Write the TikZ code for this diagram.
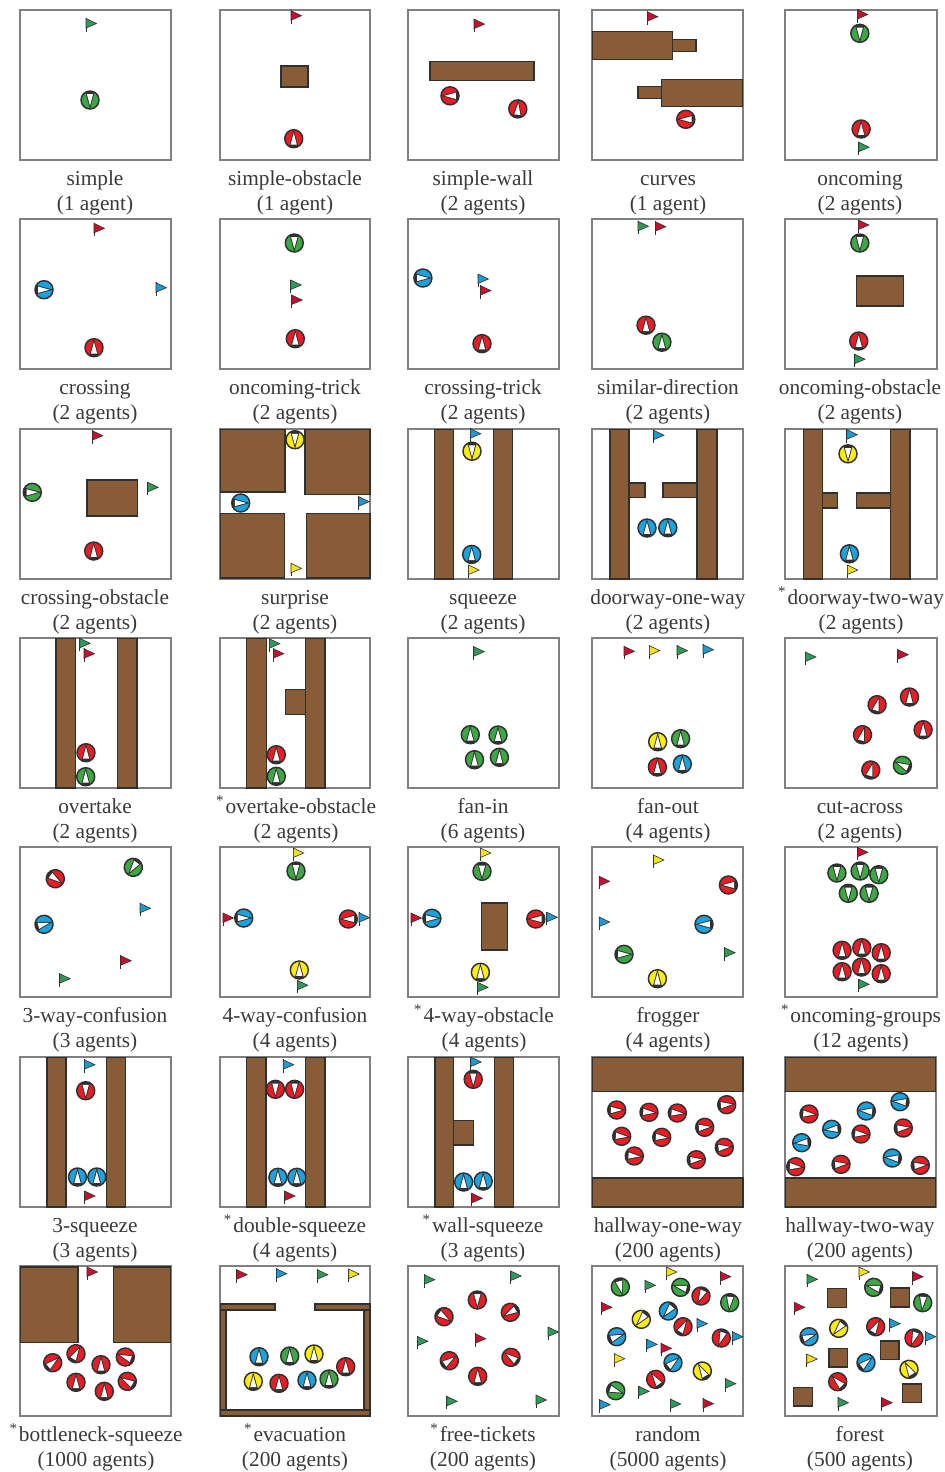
\documentclass[tikz,border=0pt]{standalone}
\usepackage{fontspec}
\setmainfont{Liberation Serif}
\definecolor{ared}{HTML}{ED1C24}
\definecolor{agreen}{HTML}{3BA844}
\definecolor{ablue}{HTML}{1AA3DE}
\definecolor{ayellow}{HTML}{FFEE00}
\definecolor{fred}{HTML}{C8102E}
\definecolor{fgreen}{HTML}{2E9B58}
\definecolor{fblue}{HTML}{1F9AD0}
\definecolor{fyellow}{HTML}{F5E020}
\definecolor{brownw}{HTML}{875C37}
\definecolor{edgek}{HTML}{303030}
\definecolor{frameg}{HTML}{808080}
\definecolor{labelg}{HTML}{3A3A3A}
\tikzset{
  panelbox/.style={draw=frameg,line width=1.05pt,fill=white},
  obstbox/.style={draw=edgek,line width=0.8pt,fill=brownw},
  agentdisc/.style={draw=edgek,line width=1.1pt},
  caption/.style={font=\fontsize{16}{18.75}\selectfont,text=labelg,align=center,inner sep=0pt},
}
% panel: left top right bottom
\newcommand\panelat[4]{\draw[panelbox] (#1,#2) rectangle (#3,#4);}
\newcommand\obst[4]{\draw[obstbox] (#1,#2) rectangle (#3,#4);}
% agent: x y colour heading (screen degrees clockwise from east)
\newcommand\agent[4]{%
  \begin{scope}[shift={(#1,#2)},rotate=-#4]
    \begin{scope}
      \clip (0,0) circle (9);
      \fill[#3] (0,0) circle (9);
      \fill[edgek] (9.2,0) -- (-10,-5.2) -- (-10,5.2) -- cycle;
      \fill[white] (5.6,0) -- (-5.8,-3.1) -- (-5.8,3.1) -- cycle;
    \end{scope}
    \draw[agentdisc] (0,0) circle (9);
  \end{scope}}
% flag: mast x, tip y, colour
\newcommand\flagm[3]{%
  \draw[edgek,line width=0.75pt] (#1,#2-5.5) -- (#1,#2+8);
  \draw[edgek,line width=0.45pt,fill=#3] (#1,#2-5) -- (#1+10.5,#2) -- (#1,#2+4.5) -- cycle;}
\newcommand\lab[5]{\node[caption] (#1) at (#2,#3) {\strut #4\\\strut #5};}
\newcommand\st{\textsuperscript{*}\kern1pt}
\begin{document}
\begin{tikzpicture}[x=0.75pt,y=-0.75pt]
\useasboundingbox (0,0) rectangle (945,1472);
\fill[white] (0,0) rectangle (945,1472);

% ---------- row 1
\panelat{20}{10}{171}{160}
\flagm{86}{23.5}{fgreen}
\agent{90}{100}{agreen}{90}
\lab{simple}{95}{193}{simple}{(1 agent)}

\panelat{220}{10}{370}{160}
\obst{281}{66}{308}{87}
\flagm{291}{15.7}{fred}
\agent{293.7}{138.7}{ared}{270}
\lab{simpleobstacle}{295}{193}{simple-obstacle}{(1 agent)}

\panelat{408}{10}{559}{160}
\obst{430}{61.3}{534}{80.3}
\flagm{474}{24.1}{fred}
\agent{450}{95.8}{ared}{180}
\agent{517.8}{108.9}{ared}{275}
\lab{simplewall}{483}{193}{simple-wall}{(2 agents)}

\panelat{592}{10}{743}{160}
\obst{672}{39.7}{696}{51.6}
\obst{592.6}{31.9}{672.6}{59.8}
\obst{638}{86.3}{661.5}{98.8}
\obst{661.5}{79.1}{742.6}{106.6}
\flagm{647.3}{16.7}{fred}
\agent{685.8}{119.3}{ared}{180}
\lab{curves}{668}{193}{curves}{(1 agent)}

\panelat{785}{10}{937}{160}
\flagm{857.3}{14.5}{fred}
\agent{859.8}{33.3}{agreen}{90}
\agent{861.1}{129}{ared}{270}
\flagm{858.7}{147.2}{fgreen}
\lab{oncoming}{860}{193}{oncoming}{(2 agents)}

% ---------- row 2
\panelat{20}{219}{171}{369}
\flagm{94}{228.3}{fred}
\agent{44}{289.7}{ablue}{0}
\flagm{156}{287.7}{fblue}
\agent{94}{347.7}{ared}{270}
\lab{crossing}{95}{402}{crossing}{(2 agents)}

\panelat{220}{219}{370}{369}
\agent{294.3}{243}{agreen}{90}
\flagm{290.7}{285}{fgreen}
\flagm{291.7}{300}{fred}
\agent{295.3}{338.7}{ared}{270}
\lab{oncomingtrick}{295}{402}{oncoming-trick}{(2 agents)}

\panelat{408}{219}{559}{369}
\agent{422.9}{278}{ablue}{0}
\flagm{478}{279}{fblue}
\flagm{480.4}{290.6}{fred}
\agent{482}{343.6}{ared}{270}
\lab{crossingtrick}{483}{402}{crossing-trick}{(2 agents)}

\panelat{592}{219}{743}{369}
\flagm{638}{226.3}{fgreen}
\flagm{655.3}{226.7}{fred}
\agent{646}{325.2}{ared}{270}
\agent{661.9}{342.2}{agreen}{270}
\lab{similardirection}{668}{402}{similar-direction}{(2 agents)}

\panelat{785}{219}{937}{369}
\obst{856.5}{276}{903.5}{306}
\flagm{858.4}{225}{fred}
\agent{859.8}{243}{agreen}{90}
\agent{858.7}{341}{ared}{270}
\flagm{854.5}{359.2}{fgreen}
\lab{oncomingobstacle}{860}{402}{oncoming-obstacle}{(2 agents)}

% ---------- row 3
\panelat{20}{429}{171}{579}
\obst{87}{480}{137.7}{516}
\flagm{92.3}{435.7}{fred}
\agent{32.3}{492.3}{agreen}{0}
\flagm{147.7}{487.3}{fgreen}
\agent{93.7}{551}{ared}{270}
\lab{crossingobstacle}{95}{612}{crossing-obstacle}{(2 agents)}

\panelat{220}{429}{370}{579}
\obst{220.3}{429.3}{285}{492}
\obst{305}{429.3}{370}{494.3}
\obst{220.3}{513.7}{284.3}{578}
\obst{306.7}{513.7}{370}{578}
\agent{295}{439.7}{ayellow}{90}
\agent{240.7}{503}{ablue}{0}
\flagm{358.7}{501.7}{fblue}
\flagm{291}{568.3}{fyellow}
\lab{surprise}{295}{612}{surprise}{(2 agents)}

\panelat{408}{429}{559}{579}
\obst{434.6}{429.3}{453.7}{579}
\obst{493.5}{429.3}{512.6}{579}
\flagm{470.3}{433.7}{fblue}
\agent{472}{451.2}{ayellow}{90}
\agent{471.7}{554.4}{ablue}{270}
\flagm{468.6}{570}{fyellow}
\lab{squeeze}{483}{612}{squeeze}{(2 agents)}

\panelat{592}{429}{743}{579}
\obst{629}{483}{645}{497.5}
\obst{663}{483}{697}{497.5}
\obst{610}{429.3}{629}{579}
\obst{697}{429.3}{717}{579}
\flagm{653.5}{435.2}{fblue}
\agent{647}{528}{ablue}{270}
\agent{667.8}{527.7}{ablue}{270}
\lab{doorwayoneway}{668}{612}{doorway-one-way}{(2 agents)}

\panelat{785}{429}{937}{579}
\obst{822.5}{493}{837.5}{508}
\obst{856.9}{493}{890.5}{508}
\obst{803.5}{429.3}{822.5}{579}
\obst{890.5}{429.3}{910}{579}
\flagm{846.9}{434.7}{fblue}
\agent{848}{453.8}{ayellow}{90}
\agent{849.4}{553.8}{ablue}{270}
\flagm{847.3}{570}{fyellow}
\lab{doorwaytwoway}{861}{612}{\st doorway-two-way}{(2 agents)}

% ---------- row 4
\panelat{20}{638}{171}{788}
\obst{56}{638.3}{75.3}{788}
\obst{117.7}{638.3}{137}{788}
\flagm{79.7}{643.3}{fgreen}
\flagm{84}{653.7}{fred}
\agent{86}{752.7}{ared}{270}
\agent{85.7}{776.7}{agreen}{270}
\lab{overtake}{95}{821}{overtake}{(2 agents)}

\panelat{220}{638}{370}{788}
\obst{285.7}{689.3}{305.3}{714.3}
\obst{246.3}{638.3}{266.3}{788}
\obst{305.3}{638.3}{325}{788}
\flagm{269.3}{643.7}{fgreen}
\flagm{273.3}{653.7}{fred}
\agent{276.3}{754.7}{ared}{270}
\agent{276.3}{776.3}{agreen}{270}
\lab{overtakeobstacle}{296}{821}{\st overtake-obstacle}{(2 agents)}

\panelat{408}{638}{559}{788}
\flagm{473.8}{651.7}{fgreen}
\agent{470.3}{734.7}{agreen}{270}
\agent{498}{735}{agreen}{270}
\agent{474.5}{759.7}{agreen}{270}
\agent{499.4}{757.3}{agreen}{270}
\lab{fanin}{483}{821}{fan-in}{(6 agents)}

\panelat{592}{638}{743}{788}
\flagm{624}{651.3}{fred}
\flagm{649.4}{650.7}{fyellow}
\flagm{677}{650.7}{fgreen}
\flagm{703}{649.7}{fblue}
\agent{657.7}{741.7}{ayellow}{270}
\agent{680.6}{738.7}{agreen}{270}
\agent{657.4}{767}{ared}{270}
\agent{682.3}{764}{ablue}{270}
\lab{fanout}{668}{821}{fan-out}{(4 agents)}

\panelat{785}{638}{937}{788}
\flagm{805.4}{657}{fgreen}
\flagm{897.9}{654.7}{fred}
\agent{877.1}{704.7}{ared}{285}
\agent{909.5}{697}{ared}{270}
\agent{923.1}{729.7}{ared}{270}
\agent{862.5}{734.7}{ared}{285}
\agent{870.8}{770}{ared}{285}
\agent{902.4}{765.3}{agreen}{205}
\lab{cutacross}{860}{821}{cut-across}{(2 agents)}

% ---------- row 5
\panelat{20}{847}{171}{997}
\agent{55.3}{878.7}{ared}{35}
\agent{133.3}{867.3}{agreen}{125}
\agent{44}{924.3}{ablue}{345}
\flagm{140}{908.3}{fblue}
\flagm{120.7}{960.7}{fred}
\flagm{59.7}{978.7}{fgreen}
\lab{threeway}{95}{1030}{3-way-confusion}{(3 agents)}

\panelat{220}{847}{370}{997}
\flagm{293.3}{853}{fyellow}
\agent{296}{871}{agreen}{90}
\flagm{223}{918}{fred}
\agent{243.7}{918}{ablue}{0}
\agent{348.3}{919}{ared}{180}
\flagm{359}{917.7}{fblue}
\agent{299.3}{970}{ayellow}{270}
\flagm{297.3}{985.3}{fgreen}
\lab{fourway}{295}{1030}{4-way-confusion}{(4 agents)}

\panelat{408}{847}{559}{997}
\obst{481.4}{903}{507.7}{950}
\flagm{480.4}{853}{fyellow}
\agent{482}{871.3}{agreen}{90}
\flagm{411}{918}{fred}
\agent{431.9}{918.3}{ablue}{0}
\agent{535.8}{919}{ared}{180}
\flagm{546.9}{917.3}{fblue}
\agent{480.4}{972.3}{ayellow}{270}
\flagm{477.6}{987.3}{fgreen}
\lab{fourwayobstacle}{484}{1030}{\st 4-way-obstacle}{(4 agents)}

\panelat{592}{847}{743}{997}
\flagm{653.5}{860}{fyellow}
\flagm{599.2}{881.3}{fred}
\agent{728.4}{885}{ared}{180}
\flagm{599.2}{922}{fblue}
\agent{704}{924.3}{ablue}{180}
\flagm{724.6}{952.7}{fgreen}
\agent{624}{954.3}{agreen}{0}
\agent{657.4}{978.7}{ayellow}{270}
\lab{frogger}{668}{1030}{frogger}{(4 agents)}

\panelat{785}{847}{937}{997}
\flagm{857.3}{852.3}{fred}
\agent{836.9}{873}{agreen}{90}
\agent{860.1}{871}{agreen}{90}
\agent{878.8}{874.7}{agreen}{90}
\agent{848.3}{893.3}{agreen}{90}
\agent{869.1}{893.3}{agreen}{90}
\agent{842.1}{950.3}{ared}{270}
\agent{861.8}{947.7}{ared}{270}
\agent{881.2}{952.7}{ared}{270}
\agent{842.1}{971.7}{ared}{270}
\agent{861.5}{967}{ared}{270}
\agent{881.2}{973.7}{ared}{270}
\flagm{858.7}{984.3}{fgreen}
\lab{oncominggroups}{861}{1030}{\st oncoming-groups}{(12 agents)}

% ---------- row 6
\panelat{20}{1057}{171}{1207}
\obst{47}{1057.3}{66}{1207}
\obst{106.4}{1057.3}{125.4}{1207}
\flagm{84.3}{1064.7}{fblue}
\agent{85.7}{1090.7}{ared}{90}
\agent{77.5}{1177}{ablue}{270}
\agent{96.8}{1177}{ablue}{270}
\flagm{84.6}{1196}{fred}
\lab{threesqueeze}{95}{1240}{3-squeeze}{(3 agents)}

\panelat{220}{1057}{370}{1207}
\obst{246.4}{1057.3}{266}{1207}
\obst{305.7}{1057.3}{325}{1207}
\flagm{283.2}{1064.7}{fblue}
\agent{275.4}{1089.3}{ared}{90}
\agent{294.6}{1089.3}{ared}{90}
\agent{277.9}{1177.3}{ablue}{270}
\agent{296.8}{1177.3}{ablue}{270}
\flagm{284.6}{1196}{fred}
\lab{doublesqueeze}{295}{1240}{\st double-squeeze}{(4 agents)}

\panelat{408}{1057}{559}{1207}
\obst{453.6}{1120.3}{473.2}{1145}
\obst{435}{1057.3}{453.6}{1207}
\obst{494.3}{1057.3}{513.2}{1207}
\flagm{470.7}{1062}{fblue}
\agent{473.2}{1079.3}{ared}{90}
\agent{463.6}{1182}{ablue}{270}
\agent{483.2}{1181}{ablue}{270}
\flagm{471.8}{1198.3}{fred}
\lab{wallsqueeze}{483}{1240}{\st wall-squeeze}{(3 agents)}

\panelat{592}{1057}{743}{1207}
\obst{592.3}{1057.3}{743}{1091.7}
\obst{592.3}{1178}{743}{1207}
\agent{616.7}{1110}{ared}{0}
\agent{649}{1112.3}{ared}{5}
\agent{677.3}{1113}{ared}{5}
\agent{726.7}{1104.7}{ared}{355}
\agent{621.7}{1136.3}{ared}{5}
\agent{661.7}{1137.3}{ared}{5}
\agent{704.7}{1127.3}{ared}{355}
\agent{724.3}{1147.3}{ared}{355}
\agent{634.3}{1156}{ared}{5}
\agent{696.3}{1159.7}{ared}{355}
\lab{hallwayoneway}{668}{1240}{hallway-one-way}{(200 agents)}

\panelat{785}{1057}{936}{1207}
\obst{785.7}{1057.3}{935.7}{1091.7}
\obst{785.7}{1178}{935.7}{1207}
\agent{809}{1114}{ared}{5}
\agent{861}{1134}{ared}{5}
\agent{903.3}{1128}{ared}{355}
\agent{795.7}{1166.7}{ared}{5}
\agent{841}{1164.3}{ared}{355}
\agent{920.3}{1165.3}{ared}{355}
\agent{866.3}{1111}{ablue}{185}
\agent{900}{1101.7}{ablue}{185}
\agent{831.7}{1129.3}{ablue}{175}
\agent{801.7}{1142.7}{ablue}{175}
\agent{892.3}{1158}{ablue}{185}
\lab{hallwaytwoway}{860}{1240}{hallway-two-way}{(200 agents)}

% ---------- row 7
\panelat{20}{1266}{171}{1416}
\obst{20.3}{1267}{78}{1342.3}
\obst{113.7}{1267}{170.3}{1342.3}
\flagm{87}{1272}{fred}
\agent{52.7}{1362.7}{ared}{320}
\agent{76}{1353.7}{ared}{300}
\agent{101}{1364.7}{ared}{270}
\agent{125.3}{1357}{ared}{200}
\agent{76}{1382.3}{ared}{270}
\agent{127.3}{1381.3}{ared}{210}
\agent{104.3}{1391.3}{ared}{270}
\lab{bottleneck}{96}{1449}{\st bottleneck-squeeze}{(1000 agents)}

\panelat{220}{1266}{370}{1416}
\obst{220.3}{1304}{275}{1310}
\obst{315}{1304}{370}{1310}
\obst{220.3}{1310}{226}{1410}
\obst{364}{1310}{370}{1410}
\obst{220.3}{1410}{370}{1416}
\flagm{236.7}{1274.7}{fred}
\flagm{276.3}{1273.7}{fblue}
\flagm{317.3}{1274.7}{fgreen}
\flagm{348.7}{1274}{fyellow}
\agent{259}{1356.7}{ablue}{270}
\agent{289.7}{1356}{agreen}{270}
\agent{314}{1354}{ayellow}{270}
\agent{345.7}{1366.7}{ared}{270}
\agent{253.3}{1381.3}{ayellow}{270}
\agent{279}{1383.3}{ared}{270}
\agent{307}{1380.3}{ablue}{270}
\agent{329}{1379}{agreen}{270}
\lab{evacuation}{295}{1449}{\st evacuation}{(200 agents)}

\panelat{408}{1266}{559}{1416}
\flagm{424.3}{1279.7}{fgreen}
\flagm{510.7}{1276}{fgreen}
\flagm{548}{1332}{fgreen}
\flagm{417.3}{1341.3}{fgreen}
\flagm{446.7}{1401.3}{fgreen}
\flagm{536}{1400}{fgreen}
\flagm{475.3}{1338.7}{fred}
\agent{477.3}{1300}{ared}{90}
\agent{444}{1316.7}{ared}{35}
\agent{510.3}{1312.3}{ared}{150}
\agent{449.3}{1360.7}{ared}{325}
\agent{511}{1357.3}{ared}{215}
\agent{477.7}{1376.3}{ared}{270}
\lab{freetickets}{483}{1449}{\st free-tickets}{(200 agents)}

\panelat{592}{1266}{743}{1416}
\agent{620.3}{1287}{agreen}{75}
\agent{680.7}{1287.3}{agreen}{195}
\agent{701}{1296}{ared}{115}
\agent{729.7}{1302.7}{agreen}{95}
\agent{668.3}{1311}{ablue}{130}
\agent{641.3}{1319.3}{ayellow}{130}
\agent{683}{1326.7}{ared}{300}
\agent{616.7}{1336.7}{ablue}{340}
\agent{721.3}{1338}{ared}{110}
\agent{673}{1362.7}{ablue}{320}
\agent{702.3}{1371}{ayellow}{240}
\agent{655.7}{1379.3}{ared}{235}
\agent{615.7}{1390.7}{agreen}{20}
\flagm{666.3}{1272}{fyellow}
\flagm{645}{1285.3}{fgreen}
\flagm{720.3}{1276.7}{fred}
\flagm{601.3}{1307.3}{fred}
\flagm{697}{1323.7}{fblue}
\flagm{732.3}{1336.7}{fblue}
\flagm{646.7}{1344.3}{fblue}
\flagm{661}{1348.3}{fred}
\flagm{614.3}{1358.7}{fyellow}
\flagm{725.3}{1383.7}{fgreen}
\flagm{638.7}{1391.3}{fgreen}
\flagm{599.7}{1404.7}{fblue}
\flagm{670.3}{1404}{fgreen}
\flagm{703}{1403.7}{fred}
\lab{random}{668}{1449}{random}{(5000 agents)}

\panelat{785}{1266}{937}{1416}
\obst{827.3}{1288.7}{846.3}{1307.3}
\obst{890.7}{1288}{909.7}{1307}
\obst{880.3}{1341}{899}{1359.3}
\obst{829}{1348.3}{847.7}{1367}
\obst{793.7}{1387.7}{812.3}{1406}
\obst{902.7}{1384}{921.3}{1402.7}
\agent{873.7}{1287.3}{agreen}{195}
\agent{922.7}{1302.7}{agreen}{95}
\agent{838.7}{1328.3}{ayellow}{130}
\agent{875.7}{1326.7}{ared}{300}
\agent{809}{1336.7}{ablue}{340}
\agent{914}{1338}{ared}{110}
\agent{866}{1362.7}{ablue}{320}
\agent{909}{1369.3}{ayellow}{240}
\agent{837.7}{1381.7}{ared}{225}
\flagm{807}{1279.3}{fgreen}
\flagm{859}{1272}{fyellow}
\flagm{912.7}{1276.7}{fred}
\flagm{794.3}{1307.3}{fred}
\flagm{889.7}{1323.7}{fblue}
\flagm{925.3}{1336.7}{fblue}
\flagm{806.7}{1359}{fyellow}
\flagm{838}{1402.7}{fgreen}
\flagm{881.7}{1402.7}{fred}
\lab{forest}{860}{1449}{forest}{(500 agents)}
\end{tikzpicture}
\end{document}
